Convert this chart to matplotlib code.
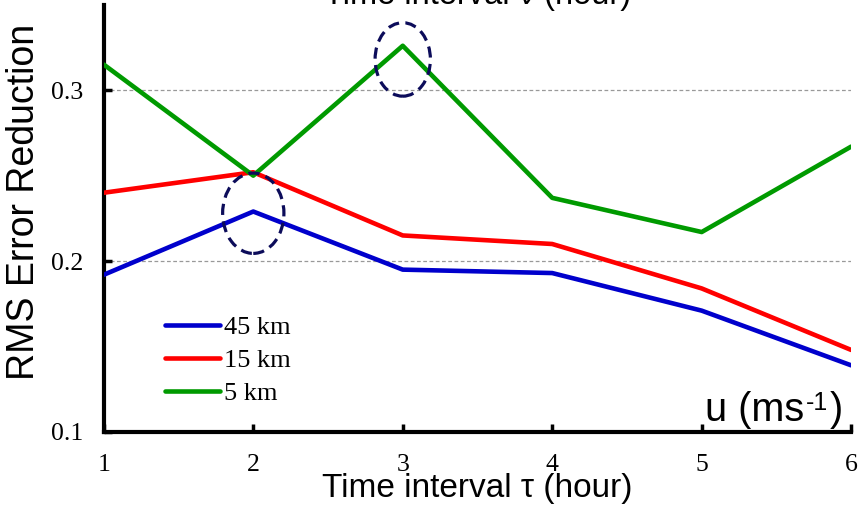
import matplotlib
matplotlib.use("Agg")
import matplotlib.pyplot as plt
from matplotlib.patches import Ellipse

# Werte
TAU = [1, 2, 3, 4, 5, 6]
KM45 = [0.192, 0.229, 0.195, 0.193, 0.171, 0.139]
KM15 = [0.240, 0.252, 0.215, 0.210, 0.184, 0.148]
KM5 = [0.315, 0.250, 0.326, 0.237, 0.217, 0.267]
SERIES_LABELS = ["45 km", "15 km", "5 km"]
Y_TICKS = [0.1, 0.2, 0.3]
Y_TICK_LABELS = ["0.1", "0.2", "0.3"]

# markierte Punkte (Ellipsen)
MARKS = [(2, 0.228), (3, 0.318)]

fig = plt.figure(figsize=(8.65, 5.05), dpi=100)
ax = fig.add_axes([0.120, 0.1446, 0.864, 0.846])

colors = ["#0000cc", "#ff0000", "#009a00"]
for ys, lab, c in zip([KM45, KM15, KM5], SERIES_LABELS, colors):
    ax.plot(TAU, ys, color=c, lw=3.3, label=lab, solid_capstyle="round", zorder=3)

for (mx, my), (w, h) in zip(MARKS, [(0.41, 0.047), (0.37, 0.043)]):
    ax.add_patch(Ellipse((mx, my), w, h, fill=False, edgecolor="#0c0c5a",
                         lw=2.3, linestyle=(0, (3.5, 2)), zorder=4))

ax.set_xlim(1, 6)
ax.set_ylim(0.1, 0.35)
ax.set_xticks(TAU)
ax.set_yticks(Y_TICKS)
ax.set_yticklabels(Y_TICK_LABELS)

for t in [0.2, 0.3]:
    ax.axhline(t, color="#999999", lw=0.9, linestyle=(0, (3, 2)), zorder=1)

for s in ["top", "right"]:
    ax.spines[s].set_visible(False)
for s in ["left", "bottom"]:
    ax.spines[s].set_linewidth(3)

ax.tick_params(axis="both", direction="in", length=6, width=2.5, colors="black")
ax.tick_params(axis="x", pad=16)
ax.tick_params(axis="y", pad=15)
for lab in ax.get_xticklabels() + ax.get_yticklabels():
    lab.set_fontfamily("Liberation Serif")
    lab.set_fontsize(18.5)

ax.set_xlabel("Time interval τ (hour)", fontfamily="Liberation Sans", fontsize=24)
ax.xaxis.set_label_coords(0.5, -0.095)
ax.set_ylabel("RMS Error Reduction", fontfamily="Liberation Sans", fontsize=27)
ax.yaxis.set_label_coords(-0.083, 0.539)

# Einheit mit kurzem Bindestrich im Exponenten
unit_kw = dict(fontfamily="Liberation Sans", va="baseline")
t1 = ax.text(0.804, 0.026, "u (ms", transform=ax.transAxes, ha="left",
             fontsize=28.5, **unit_kw)
t2 = ax.annotate("-1", xy=(1, 0.026), xycoords=(t1, "axes fraction"),
                 xytext=(1.5, 7.5), textcoords="offset points", ha="left",
                 fontsize=18, **unit_kw)
ax.annotate(")", xy=(1, 0.026), xycoords=(t2, "axes fraction"),
            xytext=(1.5, 0), textcoords="offset points", ha="left",
            fontsize=28.5, **unit_kw)

fig.text(478 / 865, 1 - 4 / 505, "Time interval ν (hour)", ha="center",
         va="baseline", fontfamily="Liberation Sans", fontsize=23.5)

leg = ax.legend(loc="upper left", bbox_to_anchor=(0.0817, 0.272), frameon=False,
                prop={"family": "Liberation Serif", "size": 19},
                handlelength=2.1, handletextpad=0.15, labelspacing=0.36,
                borderpad=0, borderaxespad=0)

fig.savefig("out.png", dpi=100)
